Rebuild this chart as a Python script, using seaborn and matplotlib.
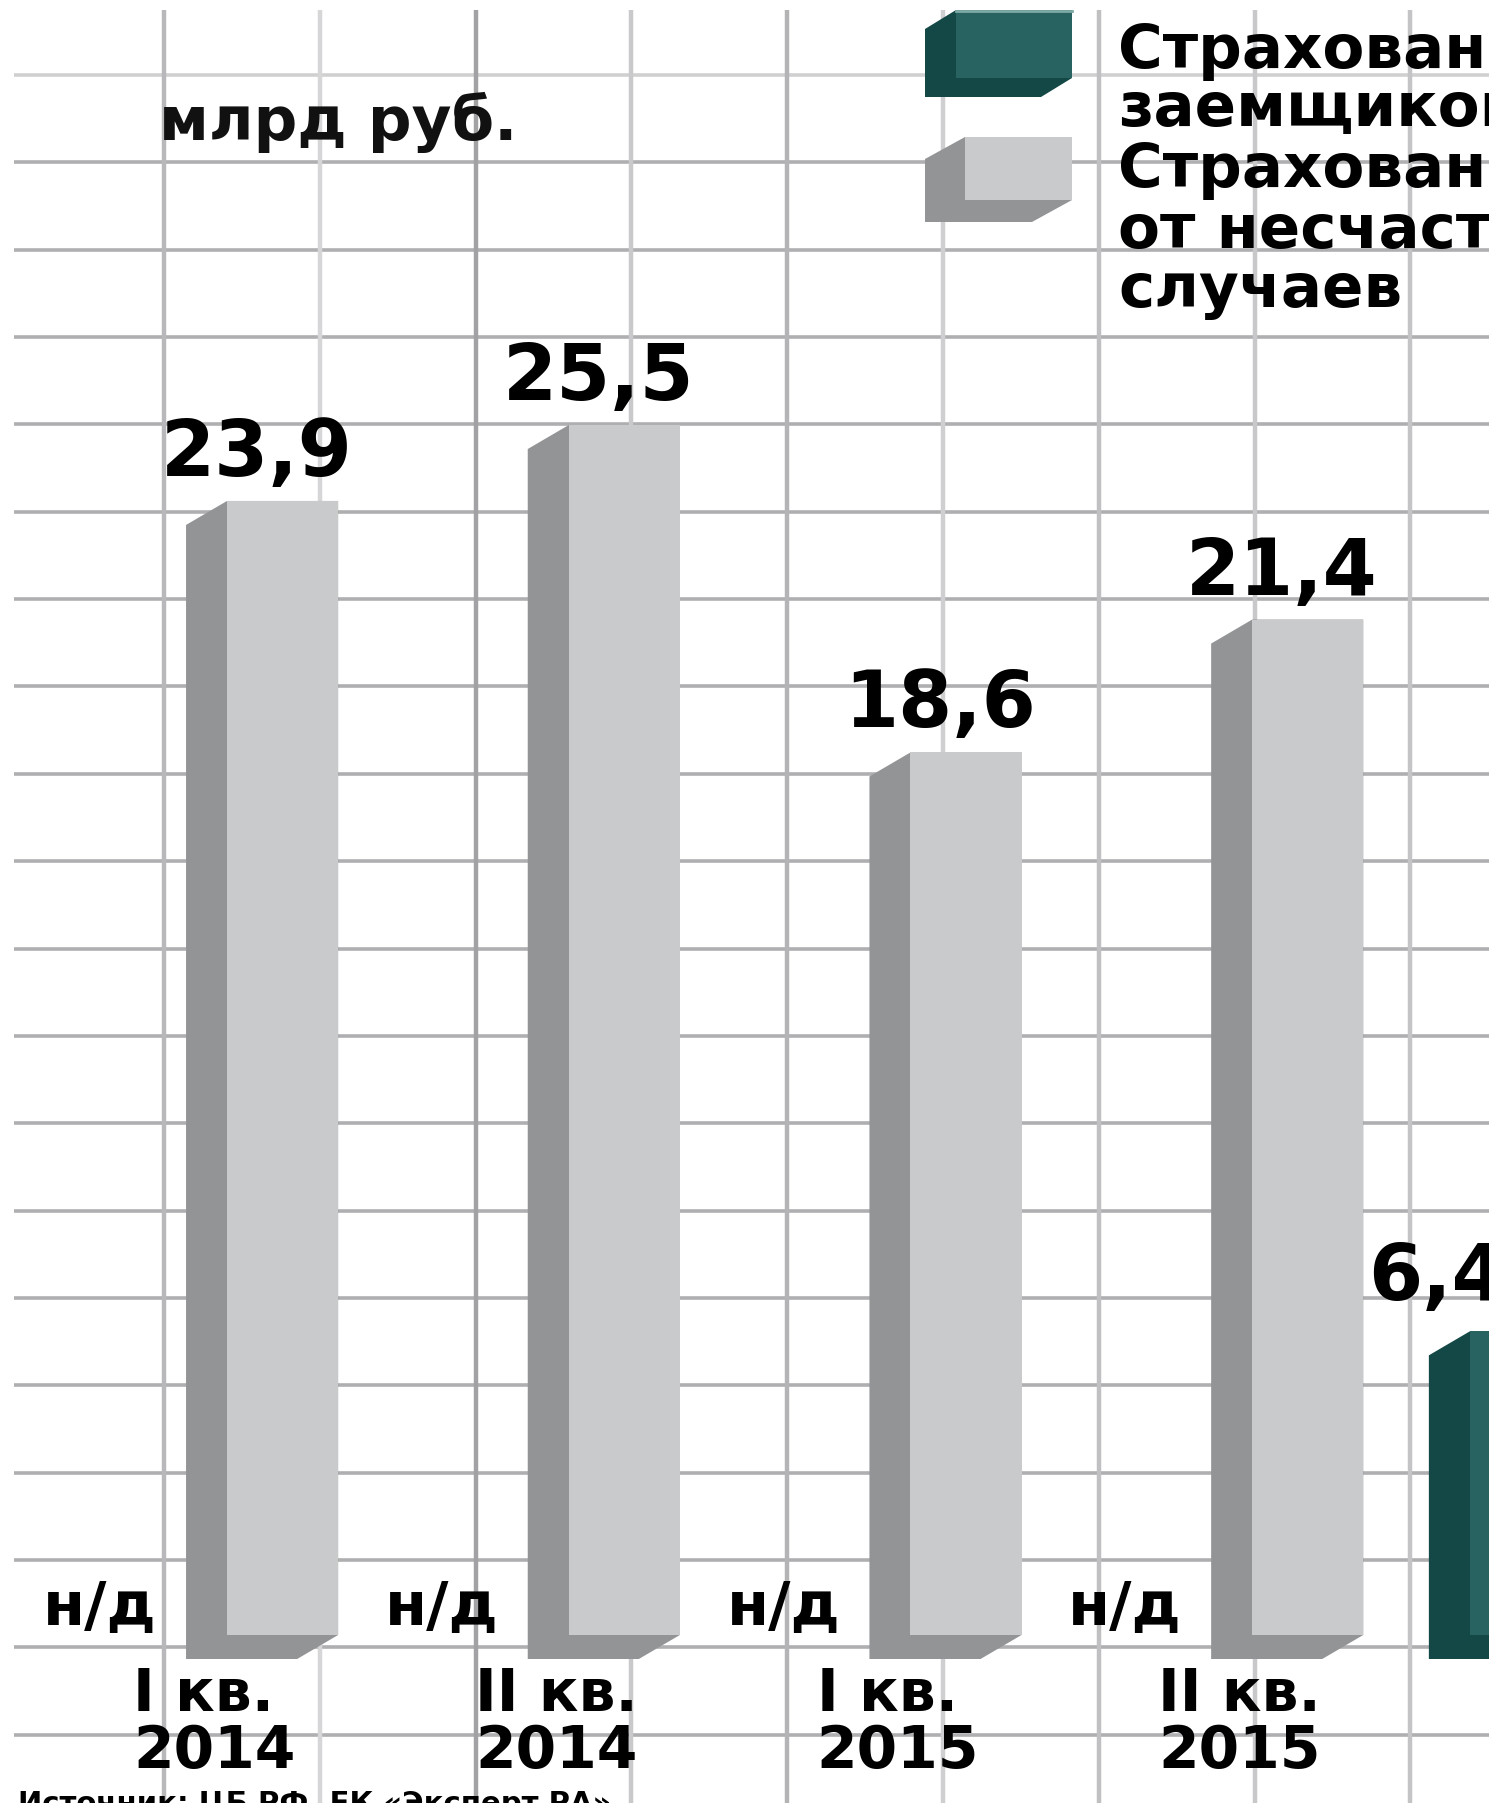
import numpy as np
import pandas as pd
import matplotlib
matplotlib.use("Agg")
import matplotlib.pyplot as plt
import seaborn as sns
from matplotlib.patches import Polygon, Rectangle

# ---------------- data ----------------
quarters = ["I кв.\n2014", "II кв.\n2014", "I кв.\n2015", "II кв.\n2015", "I кв.\n2016"]
borrowers = [np.nan, np.nan, np.nan, np.nan, 6.4]
accidents = [23.9, 25.5, 18.6, 21.4, np.nan]
series_names = ["Страхование заемщиков", "Страхование от несчастных случаев"]
legend_lines = [["Страхование", "заемщиков"], ["Страхование", "от несчастных", "случаев"]]
unit_label = "млрд руб."
na_label = "н/д"
source_label = "Источник: ЦБ РФ, ЕК «Эксперт РА»"

# ---------------- style ----------------
plt.rcParams["font.family"] = ["DejaVu Sans"]
TEAL, TEAL_SIDE = "#296361", "#134846"
GREY, GREY_SIDE = "#c9cacc", "#939496"

W, H = 1489, 1803
fig = plt.figure(figsize=(W / 100, H / 100), dpi=100)
fig.patch.set_facecolor("white")

# background (pixel coordinate) axes for the decorative grid and legend
bg = fig.add_axes([0, 0, 1, 1])
bg.set_xlim(0, W)
bg.set_ylim(H, 0)
bg.axis("off")

h_colors = ["#d0d0d2"] + ["#afafb1"] * 19
for k in range(20):
    y = 75 + 87.35 * k
    bg.plot([14, W], [y, y], color=h_colors[k], lw=2.6, zorder=1, solid_capstyle="butt")
v_colors = ["#b8b8ba", "#d6d6d8", "#a2a2a4", "#c9c9cb", "#b4b4b6",
            "#cfcfd1", "#c0c0c2", "#c8c8ca", "#c4c4c6"]
for k in range(9):
    x = 164 + 155.8 * k
    bg.plot([x, x], [10, H], color=v_colors[k], lw=3.2, zorder=1, solid_capstyle="butt")

# legend swatches (3D style) and texts
def swatch(x0, y0, x1, y1, dx, dy, front, side):
    bg.add_patch(Polygon([(x0, y0), (x0 - dx, y0 + dy), (x0 - dx, y1 + dy),
                          (x1 - dx, y1 + dy), (x1, y1), (x1, y0)],
                         closed=True, facecolor=side, edgecolor="none", zorder=3))
    bg.add_patch(Rectangle((x0, y0), x1 - x0, y1 - y0, facecolor=front,
                           edgecolor="none", zorder=4))

swatch(956, 10, 1072, 78, 31, 19, TEAL, TEAL_SIDE)
bg.plot([956, 1072], [11, 11], color="#7fa9a6", lw=2, zorder=5)
swatch(965, 137, 1072, 200, 40, 22, GREY, GREY_SIDE)

legend_baselines = [[68, 126], [187, 248, 307]]
for lines, bases in zip(legend_lines, legend_baselines):
    for line, b in zip(lines, bases):
        bg.text(1118, b, line, fontsize=44, fontweight="bold", va="baseline",
                ha="left", color="black", zorder=6)

bg.text(159, 140, unit_label, fontsize=44, fontweight="bold", va="baseline",
        ha="left", color="#111111", zorder=6)
bg.text(18, 1790, source_label, fontsize=21, fontweight="bold", va="top",
        ha="left", color="black", zorder=6)

# ---------------- bars ----------------
ax = fig.add_axes([0, 0, 1, 1])
ax.patch.set_alpha(0)

df = pd.DataFrame({
    "quarter": quarters * 2,
    "series": [series_names[0]] * len(quarters) + [series_names[1]] * len(quarters),
    "value": borrowers + accidents,
})

sns.barplot(data=df, x="quarter", y="value", hue="series", order=quarters,
            hue_order=series_names, palette=dict(zip(series_names, [TEAL, GREY])),
            saturation=1, width=0.7257, gap=0.104, errorbar=None, legend=False,
            linewidth=0, ax=ax)

PX_X, PX_Y = 341.7, 47.45
x0_px, base_px = 220.6, 1635
ax.set_xlim(-x0_px / PX_X, (W - x0_px) / PX_X)
ax.set_ylim(-(H - base_px) / PX_Y, base_px / PX_Y)
ax.axis("off")

dx, dy = 41 / PX_X, 24 / PX_Y
teal_rgb = matplotlib.colors.to_rgb(TEAL)
for p in list(ax.patches):
    hgt = p.get_height()
    if not np.isfinite(hgt) or hgt <= 0:
        continue
    L = p.get_x()
    R = L + p.get_width()
    is_teal = np.allclose(p.get_facecolor()[:3], teal_rgb, atol=0.02)
    side = TEAL_SIDE if is_teal else GREY_SIDE
    ax.add_patch(Polygon([(L, hgt), (L - dx, hgt - dy), (L - dx, -dy),
                          (R - dx, -dy), (R, 0), (R, hgt)], closed=True,
                         facecolor=side, edgecolor="none", zorder=p.get_zorder() - 0.1))
    label = f"{hgt:.1f}".replace(".", ",")
    shift = (88 if is_teal else 26) / PX_X
    lift = (31 if is_teal else 25) / PX_Y
    ax.text((L + R) / 2 - shift, hgt + lift, label, ha="center",
            va="baseline", fontsize=56, fontweight="bold", color="black", clip_on=False)

# no-data labels for the missing series and category labels
for g, (q, b) in enumerate(zip(quarters, borrowers)):
    if not np.isfinite(b):
        ax.text(g - (x0_px - 100) / PX_X, 10 / PX_Y, na_label, ha="center",
                va="baseline", fontsize=44, fontweight="bold", color="black")
    ax.text(g - 6 / PX_X, -(1666 - base_px) / PX_Y, q, ha="center", va="top",
            multialignment="left", fontsize=42, fontweight="bold", linespacing=1.0,
            color="black", clip_on=False)

fig.savefig("out.png", dpi=100, facecolor="white")
